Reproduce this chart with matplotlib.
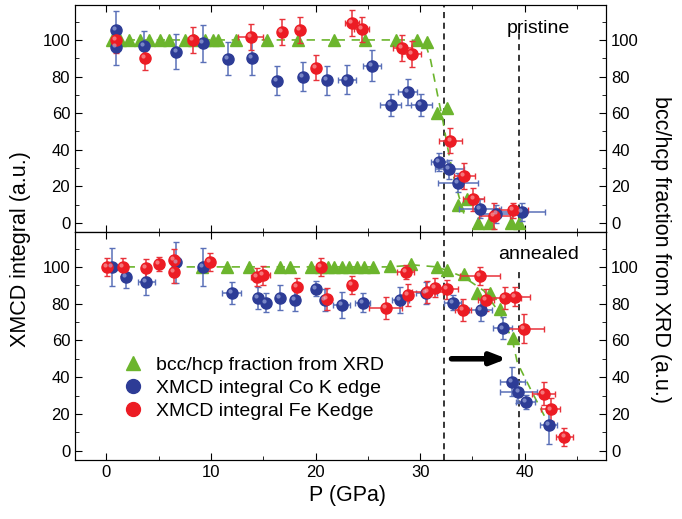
import matplotlib.pyplot as plt
from matplotlib.lines import Line2D
from matplotlib.transforms import ScaledTranslation

plt.rcParams['font.family'] = ['Liberation Sans', 'DejaVu Sans']

# ---------------- pristine (top panel) ----------------
xrd_top_p = [0.5, 1.3, 2.2, 3.2, 4.1, 5.1, 6.0, 7.5, 8.4, 9.4, 10.2, 10.7, 12.4, 15.4,
             18.3, 21.8, 24.7, 27.7, 29.7, 30.7, 31.6, 32.6, 33.6, 34.5, 35.5, 36.6, 38.7, 39.5]
xrd_top_f = [100, 100, 100, 100, 100, 100, 100, 100, 100, 100, 100, 100, 100, 100,
             100, 100, 100, 100, 100, 99, 60.2, 63, 9.7, 12.8, 0, 0, 0, 0]
fit_top_p = [0.5, 29.0, 30.0, 30.6, 31.0, 31.7, 32.2, 32.6, 33.1, 33.7, 34.2]
fit_top_f = [100, 100, 99.5, 96.4, 89, 69, 55, 42, 27.5, 14.6, 4.6]

co_top_p = [0.9, 0.9, 3.6, 6.7, 9.2, 11.6, 13.9, 16.3, 18.8, 21.1, 23.0, 25.4, 27.2, 28.8,
            30.1, 31.8, 32.8, 33.6, 35.7, 37.3, 39.7]
co_top_v = [105.4, 96.4, 96.7, 93.6, 98.2, 89.8, 90.4, 77.7, 80, 78, 78.2, 85.8, 64.6, 71.7,
            64.6, 33.1, 29.2, 22.0, 7.8, 5.0, 6.1]
co_top_ye = [10.5, 10, 8, 9.5, 10, 9, 9.3, 8, 8, 8, 8, 8.5, 6, 7, 6, 5, 5, 5, 5, 5, 5]
co_top_xe = [0, 0, 0, 0, 0, 0, 0, 0, 0, 0, 0.9, 0.9, 1.0, 0.9, 1.0, 0.8, 1.4, 1.9, 2.0, 1.5, 2.2]

fe_top_p = [0.9, 3.7, 8.3, 13.8, 16.8, 18.5, 20.0, 23.5, 24.4, 28.3, 29.2, 32.9, 34.2, 35.1,
            37.1, 38.9]
fe_top_v = [100, 90, 100, 101.5, 104.2, 105.3, 84.9, 109.4, 105.8, 95.5, 92.4, 45, 25.5, 12.8,
            3.7, 6.8]
fe_top_ye = [7, 6.6, 7, 7, 7, 7, 7, 7, 7, 7, 7, 7, 7, 6.5, 7, 4]
fe_top_xe = [0, 0, 0.5, 1.2, 0, 0, 0, 0.7, 0.7, 0.9, 0.9, 1.1, 1.0, 1.0, 1.5, 1.4]

# ---------------- annealed (bottom panel) ----------------
xrd_bot_p = [9.1, 11.5, 13.6, 16.6, 17.6, 19.6, 20.5, 21.2, 21.8, 22.5, 23.2, 24.0, 24.6,
             25.5, 27.1, 29.1, 31.6, 32.6, 34.2, 35.4, 36.7, 37.6, 38.9]
xrd_bot_f = [100, 100, 100, 100, 100, 100, 100, 100, 100, 100, 100, 100, 100,
             100, 100.5, 101.8, 100, 98.2, 96.4, 86, 86, 77.3, 61.5]
fit_bot_p = [0.5, 27.0, 29.5, 31.6, 32.6, 34.2, 36.1, 37.7, 38.8, 39.3, 40.6, 41.9, 42.7]
fit_bot_f = [100, 100, 101, 100, 98, 94.4, 87, 74, 60.6, 47.8, 33, 18.7, 11.5]

co_bot_p = [0.5, 1.85, 3.8, 6.7, 9.2, 12.0, 14.5, 15.3, 16.6, 18.0, 20.0, 20.9, 22.5, 24.5,
            28.1, 30.6, 33.1, 35.8, 37.9, 38.8, 39.4, 40.1, 42.3]
co_bot_v = [100, 94.5, 91.8, 102.4, 100, 86, 83.3, 80.6, 83.3, 81.8, 88.2, 81.8, 79.1, 80.6,
            81.8, 86, 80.6, 76.4, 66.5, 37.5, 31.8, 26.4, 13.8]
co_bot_ye = [10.5, 6, 7, 11, 10.5, 6, 6, 5, 7, 6, 4, 6, 7, 5, 7, 6, 4, 6, 6, 8, 6, 4, 10]
co_bot_xe = [0, 0, 0.8, 0, 0, 0.9, 0, 0, 0, 0, 0, 0, 0.8, 0.7, 0.8, 1.0, 0.8, 1.1, 0.9,
             1.2, 1.8, 0.9, 0.8]

fe_bot_p = [0.1, 1.6, 3.8, 5.0, 6.5, 6.5, 9.9, 14.4, 15.0, 18.2, 20.5, 21.1, 23.5, 26.7,
            28.6, 28.8, 30.7, 31.4, 32.6, 34.1, 35.7, 36.3, 38.1, 39.1, 39.9, 41.8, 42.5, 43.8]
fe_bot_v = [100, 100, 99.5, 101.5, 103.6, 97.3, 102.7, 94.5, 95.4, 89.1, 100, 82.7, 90, 77.5,
            97.3, 84.6, 86.4, 88.7, 87.8, 76.4, 95.1, 81.8, 82.9, 83.8, 66.4, 31.1, 22.4, 7.3]
fe_bot_ye = [5, 5, 5, 4, 6, 6, 5, 5, 5, 5, 5, 6, 5, 6, 4, 6, 6, 5, 5, 6, 5, 6, 6, 5, 8, 6, 6, 5]
fe_bot_xe = [0, 0, 0, 0, 0, 0, 0, 0.6, 0.6, 0.5, 0, 0, 0, 1.6, 0.8, 0, 1.5, 0.8, 1.0, 0.8,
             1.9, 0.8, 1.5, 1.4, 1.9, 1.1, 0.9, 0.8]

vlines = [32.3, 39.5]

GREEN = '#6cb52d'
BLUE = '#2d3c96'
BLUE_ERR = '#5a70b8'
RED = '#ec1c24'
RED_ERR = '#e8323a'


def balls(ax, x, y, xe, ye, color, ecolor, hl):
    ax.errorbar(x, y, yerr=ye, xerr=xe, fmt='none', ecolor=ecolor, elinewidth=1.1,
                capsize=2.5, capthick=1.0, zorder=3)
    ax.plot(x, y, 'o', ms=8, color=color, mec=color, zorder=4)
    shift = ScaledTranslation(-1.4 / 72, 1.4 / 72, ax.figure.dpi_scale_trans)
    ax.plot(x, y, 'o', ms=3, color=hl, mec='none', alpha=0.55, zorder=5,
            transform=ax.transData + shift)


def panel(ax, xrd_p, xrd_f, fit_p, fit_f, co, fe, label, vtop):
    ax.plot(fit_p, fit_f, '--', color=GREEN, lw=1.2, dashes=(5, 4), zorder=2)
    ax.plot(xrd_p, xrd_f, '^', ms=9, color=GREEN, mec=GREEN, zorder=2)
    balls(ax, *co, BLUE, BLUE_ERR, '#b8c4ee')
    balls(ax, *fe, RED, RED_ERR, '#ffc0c0')
    ax.axvline(vlines[0], color='black', ls='--', lw=1.1, dashes=(4, 3), zorder=1)
    ax.axvline(vlines[1], ymax=vtop, color='black', ls='--', lw=1.1, dashes=(4, 3), zorder=1)
    ax.text(41.3, 106.5, label, fontsize=14, ha='center', va='center')
    ax.set_xlim(-3, 47.8)
    ax.set_ylim(-5, 119)
    ax.set_yticks([0, 20, 40, 60, 80, 100])
    ax.set_yticks(range(10, 120, 20), minor=True)
    ax.set_xticks([0, 10, 20, 30, 40])
    ax.set_xticks([5, 15, 25, 35, 45], minor=True)
    ax.tick_params(direction='in', which='major', length=5, labelsize=12, top=True)
    ax.tick_params(direction='in', which='minor', length=3, top=True)
    tw = ax.twinx()
    tw.set_ylim(-5, 119)
    tw.set_yticks([0, 20, 40, 60, 80, 100])
    tw.set_yticks(range(10, 120, 20), minor=True)
    tw.tick_params(direction='in', which='major', length=5, labelsize=12)
    tw.tick_params(direction='in', which='minor', length=3)
    return tw


fig = plt.figure(figsize=(6.82, 5.19), dpi=100)
ax1 = fig.add_axes([0.110, 0.553, 0.779, 0.437])
ax2 = fig.add_axes([0.110, 0.114, 0.779, 0.439])

panel(ax1, xrd_top_p, xrd_top_f, fit_top_p, fit_top_f,
      (co_top_p, co_top_v, co_top_xe, co_top_ye),
      (fe_top_p, fe_top_v, fe_top_xe, fe_top_ye), 'pristine', 0.89)
tw2 = panel(ax2, xrd_bot_p, xrd_bot_f, fit_bot_p, fit_bot_f,
            (co_bot_p, co_bot_v, co_bot_xe, co_bot_ye),
            (fe_bot_p, fe_bot_v, fe_bot_xe, fe_bot_ye), 'annealed', 0.83)
ax1.tick_params(labelbottom=False)

ax2.annotate('', xy=(38.3, 50), xytext=(33.0, 50),
             arrowprops=dict(arrowstyle='-|>,head_length=0.9,head_width=0.35',
                             lw=4, color='black', shrinkA=0, shrinkB=0))

handles = [Line2D([], [], ls='none', marker='^', ms=10, color=GREEN),
           Line2D([], [], ls='none', marker='o', ms=10, color=BLUE),
           Line2D([], [], ls='none', marker='o', ms=10, color=RED)]
labels = ['bcc/hcp fraction from XRD', 'XMCD integral Co K edge', 'XMCD integral Fe Kedge']
tw2.legend(handles, labels, loc='center left', bbox_to_anchor=(0.055, 0.315), frameon=False,
           fontsize=14, handletextpad=0.55, labelspacing=0.28, handlelength=1.2)

fig.text(0.51, 0.045, 'P (GPa)', fontsize=15.5, ha='center', va='center')
fig.text(0.03, 0.52, 'XMCD integral (a.u.)', fontsize=15.5, ha='center', va='center',
         rotation=90)
fig.text(0.968, 0.52, 'bcc/hcp fraction from XRD (a.u.)', fontsize=15.5, ha='center',
         va='center', rotation=270)

fig.savefig('out.png', dpi=100)
